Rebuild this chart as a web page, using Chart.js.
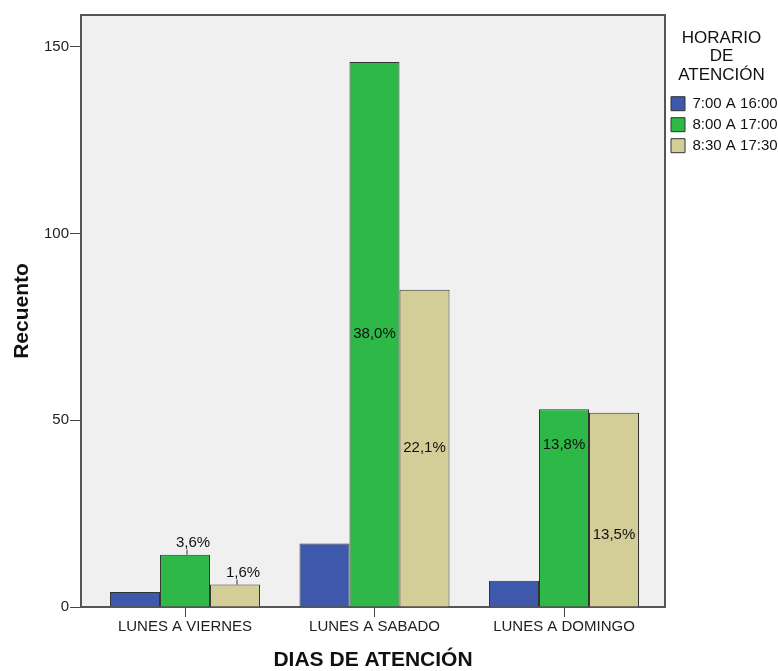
<!DOCTYPE html>
<html lang="es">
<head>
<meta charset="utf-8">
<title>Días de atención por horario</title>
<script src="https://cdn.jsdelivr.net/npm/chart.js@4.4.1/dist/chart.umd.min.js"></script>
<style>
  html, body { margin: 0; padding: 0; background: #fff; }
  #wrap { width: 778px; height: 671px; }
</style>
</head>
<body>
<div id="wrap"><canvas id="diasChart" width="778" height="671"></canvas></div>
<script>
// Recuento por día de atención y horario
const categorias = ['LUNES A VIERNES', 'LUNES A SABADO', 'LUNES A DOMINGO'];
const horarios = ['7:00 A 16:00', '8:00 A 17:00', '8:30 A 17:30'];
const recuento0716 = [4, 17, 7];
const recuento0817 = [14, 146, 53];
const recuento0830 = [6, 85, 52];
const yTicks = [0, 50, 100, 150];

const series = [recuento0716, recuento0817, recuento0830];
const colores = ['#3e58ac', '#2eb848', '#d3ce97'];
const total = series.flat().reduce((a, b) => a + b, 0);

const FONT = "'Liberation Sans', Arial, sans-serif";
Chart.defaults.font.family = FONT;
Chart.defaults.font.size = 15;
Chart.defaults.color = '#222';

// fondo gris del área de trazado + marco superior/derecho
const fondoPlot = {
    id: 'fondoPlot',
    beforeDraw(chart) {
        const { ctx, chartArea: a } = chart;
        ctx.save();
        ctx.fillStyle = '#f0f0f0';
        ctx.fillRect(a.left, a.top, a.width, a.height);
        ctx.restore();
    },
    afterDraw(chart) {
        const { ctx, chartArea: a } = chart;
        ctx.save();
        ctx.strokeStyle = '#555';
        ctx.lineWidth = 2;
        ctx.beginPath();
        ctx.moveTo(a.left, a.top);
        ctx.lineTo(a.right, a.top);
        ctx.lineTo(a.right, a.bottom);
        ctx.stroke();
        ctx.restore();
    }
};

// porcentajes sobre el total, estilo SPSS
const etiquetasPct = {
    id: 'etiquetasPct',
    afterDatasetsDraw(chart, args, opts) {
        const { ctx } = chart;
        ctx.save();
        ctx.font = '15px ' + FONT;
        ctx.fillStyle = '#111';
        ctx.strokeStyle = '#333';
        ctx.lineWidth = 1;
        ctx.textAlign = 'center';
        ctx.textBaseline = 'middle';
        opts.series.forEach(di => {
            chart.getDatasetMeta(di).data.forEach((bar, i) => {
                const v = series[di][i];
                const txt = (v / total * 100).toFixed(1).replace('.', ',') + '%';
                const h = bar.base - bar.y;
                if (h < opts.minInside) {
                    ctx.beginPath();
                    ctx.moveTo(bar.x + 2, bar.y);
                    ctx.lineTo(bar.x + 2, bar.y - 5);
                    ctx.stroke();
                    ctx.fillText(txt, bar.x + 8, bar.y - 12);
                } else {
                    const shift = opts.nudge[di + '-' + i] || 0;
                    ctx.fillText(txt, bar.x, (bar.y + bar.base) / 2 + shift);
                }
            });
        });
        ctx.restore();
    }
};

const ctx = document.getElementById('diasChart').getContext('2d');
new Chart(ctx, {
    type: 'bar',
    data: {
        datasets: series.map((vals, k) => ({
            label: horarios[k],
            data: vals.map((v, i) => ({ x: i, y: v })),
            backgroundColor: colores[k],
            borderColor: '#333',
            borderWidth: 1,
            categoryPercentage: 0.7916,
            barPercentage: 1.0
        }))
    },
    options: {
        responsive: false,
        devicePixelRatio: 1,
        animation: false,
        layout: { padding: { top: 15, left: 0, right: 0, bottom: 0 } },
        scales: {
            x: {
                type: 'linear',
                offset: false,
                min: -0.5488,
                max: 2.533,
                afterBuildTicks: s => { s.ticks = categorias.map((_, i) => ({ value: i })); },
                ticks: {
                    callback: v => categorias[v],
                    padding: 1,
                    color: '#222',
                    autoSkip: false,
                    maxRotation: 0
                },
                grid: { offset: false, drawOnChartArea: false, drawTicks: true, tickLength: 10, color: '#444' },
                border: { color: '#555', width: 2 },
                title: {
                    display: true,
                    text: 'DIAS DE ATENCIÓN',
                    color: '#111',
                    font: { size: 21, weight: 'bold', lineHeight: 1 },
                    padding: { top: 13, bottom: 0 }
                }
            },
            y: {
                min: 0,
                max: 158.57,
                afterBuildTicks: s => { s.ticks = yTicks.map(v => ({ value: v })); },
                ticks: { padding: 1, color: '#222' },
                grid: { drawOnChartArea: false, drawTicks: true, tickLength: 11, color: '#444' },
                border: { color: '#555', width: 2 },
                title: {
                    display: true,
                    text: 'Recuento',
                    color: '#111',
                    font: { size: 21, weight: 'bold', lineHeight: 1 },
                    padding: { top: 11.5, bottom: 10.5 }
                }
            }
        },
        plugins: {
            legend: {
                position: 'right',
                align: 'start',
                maxWidth: 113,
                labels: { boxWidth: 14, boxHeight: 14, padding: 6, color: '#111', font: { size: 15 } },
                title: {
                    display: true,
                    text: ['HORARIO', 'DE', 'ATENCIÓN'],
                    position: 'center',
                    color: '#111',
                    font: { size: 17, lineHeight: 1.1 },
                    padding: { top: 14.5, bottom: 42 }
                }
            },
            tooltip: { enabled: false },
            etiquetasPct: {
                series: [1, 2],
                minInside: 60,
                nudge: { '1-2': -63, '2-2': 25 }
            }
        }
    },
    plugins: [fondoPlot, etiquetasPct]
});
</script>
</body>
</html>
